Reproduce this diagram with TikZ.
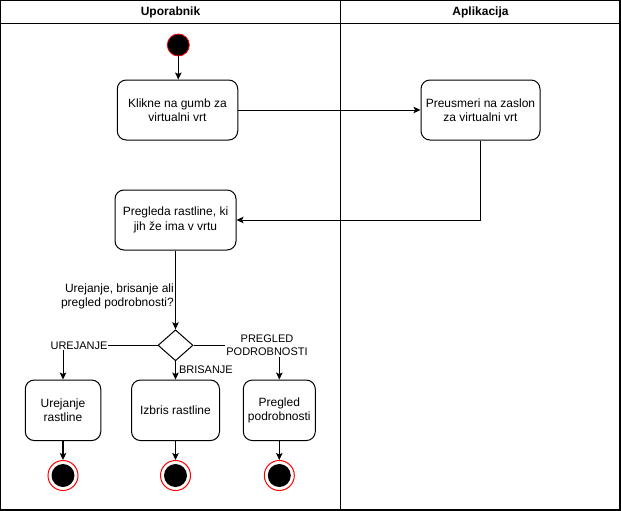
\documentclass[tikz,border=0pt]{standalone}
\usepackage{fontspec}
\setmainfont{Liberation Sans}
\usetikzlibrary{arrows.meta,shapes.geometric}
\begin{document}
\begin{tikzpicture}[x=1pt,y=-1pt,
  every node/.style={font=\fontsize{12}{14.5}\selectfont},
  actbox/.style={draw,line width=1pt,rounded corners=9pt,align=center,inner sep=2pt},
  flow/.style={line width=1pt,-{Stealth[length=7pt,width=6.5pt,inset=1.5pt]}},
  startdot/.style={circle,draw=red,line width=0.8pt,fill=black,minimum size=22pt,inner sep=0pt},
  enddot/.style={circle,draw=red,line width=1pt,fill=white,minimum size=30pt,inner sep=0pt,
    path picture={\fill[black] (path picture bounding box.center) circle[radius=11.5pt];}},
  smalltext/.style={font=\fontsize{11}{13}\selectfont},
  edgelabel/.style={smalltext,fill=white,inner sep=1pt,align=center},
  header/.style={font=\fontsize{12}{14}\selectfont\bfseries}
]
\useasboundingbox (0,0) rectangle (621,511);
% swimlanes
\draw[line width=1.2pt] (0.6,0.6) rectangle (620,510);
\draw[line width=1pt] (0.6,23.3) -- (620,23.3);
\draw[line width=1pt] (340.3,0.6) -- (340.3,510);
\node[header] (laneA) at (170.5,12) {Uporabnik};
\node[header] (laneB) at (480.5,12) {Aplikacija};

% activities
\node[startdot] (start) at (178.3,45) {};
\node[actbox,minimum width=120.5pt,minimum height=60pt] (klik) at (177.5,110) {Klikne na gumb za\\virtualni vrt};
\node[actbox,minimum width=119pt,minimum height=60pt] (preus) at (480.5,110) {Preusmeri na zaslon\\za virtualni vrt};
\node[actbox,minimum width=121pt,minimum height=60pt] (pregl) at (175.5,220) {Pregleda rastline, ki\\jih že ima v vrtu};
\node[diamond,draw,line width=1pt,minimum width=35pt,minimum height=31pt,inner sep=0pt,aspect=1.13] (odl) at (175.5,345.3) {};
\node[actbox,minimum width=75.5pt,minimum height=60.5pt] (urej) at (63,410.3) {Urejanje\\rastline};
\node[actbox,minimum width=88pt,minimum height=60.5pt] (izbr) at (175.5,410.3) {Izbris rastline};
\node[actbox,minimum width=72pt,minimum height=60.5pt] (podr) at (279.3,410.3) {Pregled\\podrobnosti};
\node[enddot] (endA) at (63,475.5) {};
\node[enddot] (endB) at (175.5,475.5) {};
\node[enddot] (endC) at (279.3,475.5) {};

% connectors
\draw[flow] (start) -- (start |- klik.north);
\draw[flow] (klik.east) -- (preus.west);
\draw[flow] (preus.south) |- (pregl.east);
\draw[flow] (pregl.south) -- (odl.north);
\node[anchor=east,align=right,inner sep=0pt,font=\fontsize{12}{13.5}\selectfont] (qlabel) at (174,296.5) {Urejanje, brisanje ali\\pregled podrobnosti?};
\coordinate (cornerA) at (63,345.3);
\coordinate (cornerC) at (279.3,345.3);
\draw[flow] (odl.west) -- (cornerA) -- (urej.north);
\draw[flow] (odl.east) -- (cornerC) -- (podr.north);
\draw[flow] (odl.south) -- (izbr.north);
\node[edgelabel] (lblA) at (79,345.3) {UREJANJE};
\node[edgelabel] (lblC) at (267,345.5) {PREGLED\\PODROBNOSTI};
\node[smalltext,anchor=west,inner sep=0pt] (lblB) at (178.8,370) {BRISANJE};
\draw[flow,line width=1.5pt] (urej.south) -- (endA.north);
\draw[flow] (izbr.south) -- (endB.north);
\draw[flow] (podr.south) -- (endC.north);
\end{tikzpicture}
\end{document}
